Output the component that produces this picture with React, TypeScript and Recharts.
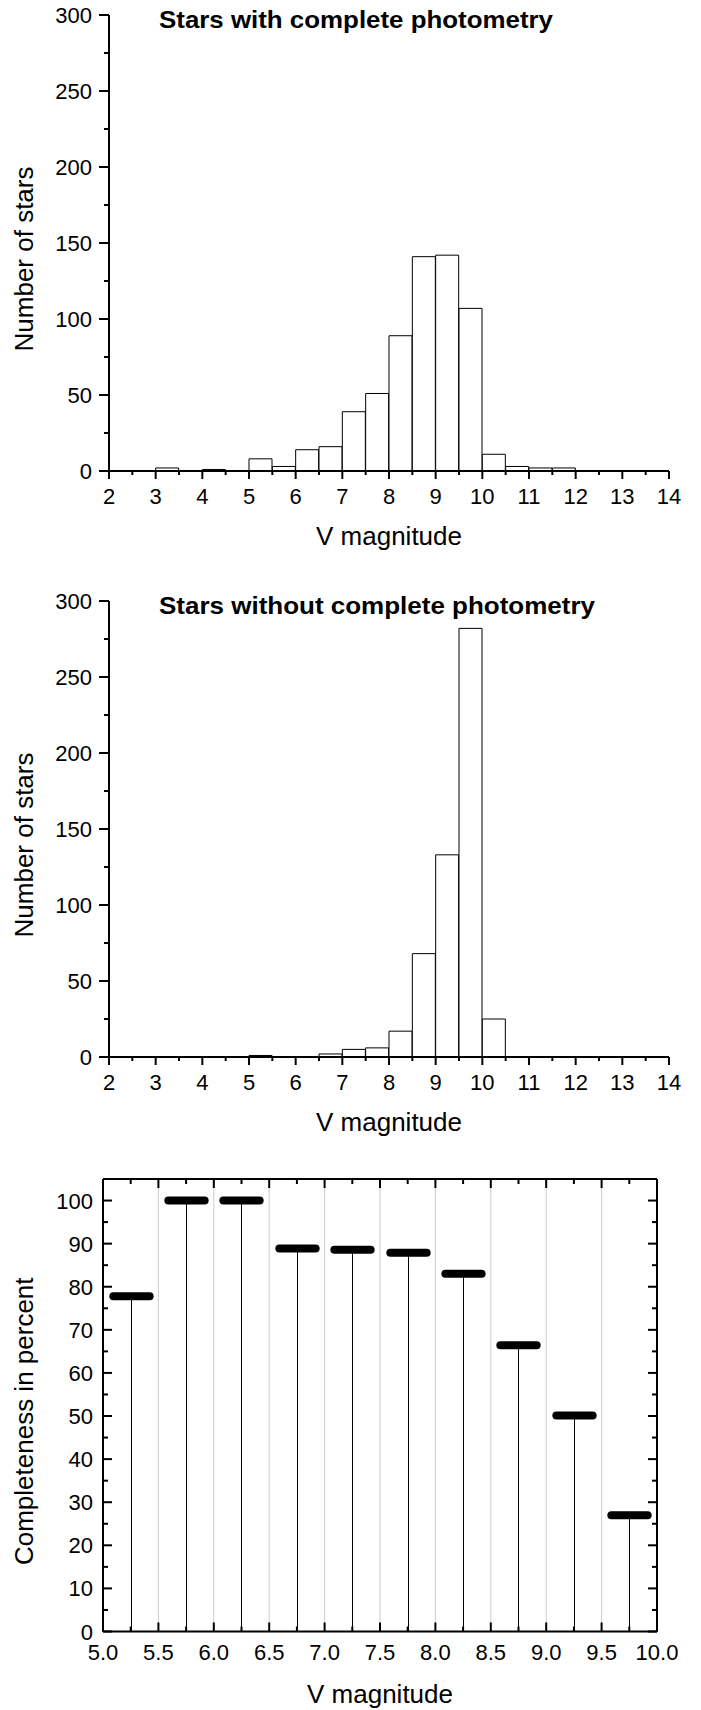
import React from 'react';
import { ComposedChart, Bar, XAxis, YAxis, ReferenceLine, Label } from 'recharts';

const FONT = "'Liberation Sans', Arial, Helvetica, sans-serif";

// lower edges of the 0.5 mag bins (V magnitude)
const binStarts = [2, 2.5, 3, 3.5, 4, 4.5, 5, 5.5, 6, 6.5, 7, 7.5, 8, 8.5, 9, 9.5, 10, 10.5, 11, 11.5, 12, 12.5, 13, 13.5];
const countsComplete = [0, 0, 2, 0, 1, 0, 8, 3, 14, 16, 39, 51, 89, 141, 142, 107, 11, 3, 2, 2, 0, 0, 0, 0];
const countsIncomplete = [0, 0, 0, 0, 0, 0, 1, 0, 0, 2, 5, 6, 17, 68, 133, 282, 25, 0, 0, 0, 0, 0, 0, 0];

const histXTicks = [2, 2.5, 3, 3.5, 4, 4.5, 5, 5.5, 6, 6.5, 7, 7.5, 8, 8.5, 9, 9.5, 10, 10.5, 11, 11.5, 12, 12.5, 13, 13.5, 14];
const histYTicks = [0, 25, 50, 75, 100, 125, 150, 175, 200, 225, 250, 275, 300];

// completeness per bin centre
const complBins = [5.25, 5.75, 6.25, 6.75, 7.25, 7.75, 8.25, 8.75, 9.25, 9.75];
const completeness = [77.8, 100, 100, 88.9, 88.6, 87.9, 83.0, 66.4, 50.1, 27.0];
const complXTicks = [5, 5.25, 5.5, 5.75, 6, 6.25, 6.5, 6.75, 7, 7.25, 7.5, 7.75, 8, 8.25, 8.5, 8.75, 9, 9.25, 9.5, 9.75, 10];
const complYTicks = [0, 5, 10, 15, 20, 25, 30, 35, 40, 45, 50, 55, 60, 65, 70, 75, 80, 85, 90, 95, 100];
const complGrid = [5.5, 6, 6.5, 7, 7.5, 8, 8.5, 9, 9.5];

const histData = (counts: number[]) => binStarts.map((s, i) => ({ bin: String(s), v: s, n: counts[i] }));
const complData = complBins.map((c, i) => ({ bin: String(c), v: c, pct: completeness[i] }));

const HistXTick = (props: any) => {
  const { x, y, payload } = props;
  const major = Number.isInteger(payload.value);
  return (
    <g>
      <line x1={x} x2={x} y1={y} y2={y + (major ? 8 : 4)} stroke="#000" strokeWidth={2} />
      {major && (
        <text x={x} y={y + 33} textAnchor="middle" fontSize={22} fontFamily={FONT} fill="#000">
          {payload.value}
        </text>
      )}
    </g>
  );
};

const HistYTick = (props: any) => {
  const { x, y, payload } = props;
  const major = payload.value % 50 === 0;
  return (
    <g>
      <line x1={x - (major ? 10 : 5)} x2={x} y1={y} y2={y} stroke="#000" strokeWidth={2} />
      {major && (
        <text x={x - 17} y={y + 8} textAnchor="end" fontSize={22} fontFamily={FONT} fill="#000">
          {payload.value}
        </text>
      )}
    </g>
  );
};

// inward ticks on all four sides of the completeness frame
const frameTick = (side: 'bottom' | 'top' | 'left' | 'right') => (props: any) => {
  const { x, y, payload } = props;
  const v = payload.value;
  const horiz = side === 'bottom' || side === 'top';
  const major = horiz ? Math.abs(v * 2 - Math.round(v * 2)) < 1e-6 : v % 10 === 0;
  const len = major ? 9 : 5;
  let line;
  if (side === 'bottom') line = <line x1={x} x2={x} y1={y} y2={y - len} stroke="#000" strokeWidth={2} />;
  else if (side === 'top') line = <line x1={x} x2={x} y1={y} y2={y + len} stroke="#000" strokeWidth={2} />;
  else if (side === 'left') line = <line x1={x} x2={x + len} y1={y} y2={y} stroke="#000" strokeWidth={2} />;
  else line = <line x1={x} x2={x - len} y1={y} y2={y} stroke="#000" strokeWidth={2} />;
  let label = null;
  if (major && side === 'bottom') {
    label = (
      <text x={x} y={y + 28} textAnchor="middle" fontSize={22} fontFamily={FONT} fill="#000">
        {v.toFixed(1)}
      </text>
    );
  }
  if (major && side === 'left') {
    label = (
      <text x={x - 10} y={y + 8} textAnchor="end" fontSize={22} fontFamily={FONT} fill="#000">
        {v}
      </text>
    );
  }
  return (
    <g>
      {line}
      {label}
    </g>
  );
};

const xLabel = (text: string, dy: number) => (props: any) => {
  const vb = props.viewBox;
  return (
    <text x={vb.x + vb.width / 2} y={vb.y + dy} textAnchor="middle" fontSize={26} fontFamily={FONT} fill="#000">
      {text}
    </text>
  );
};

const yLabel = (text: string, dy: number) => (props: any) => {
  const vb = props.viewBox;
  const bx = vb.x + 33;
  const cy = vb.y + vb.height / 2 + dy;
  return (
    <text x={bx} y={cy} transform={`rotate(-90 ${bx} ${cy})`} textAnchor="middle" fontSize={26} fontFamily={FONT} fill="#000">
      {text}
    </text>
  );
};

const CompletenessMark = (props: any) => {
  const { x, y, width, height } = props;
  const cx = Math.round(x + width / 2) + 0.5;
  const half = width * 0.33;
  return (
    <g>
      <line x1={cx} x2={cx} y1={y + height} y2={y} stroke="#000" strokeWidth={1} />
      <line x1={cx - half} x2={cx + half} y1={y} y2={y} stroke="#000" strokeWidth={8} strokeLinecap="round" />
    </g>
  );
};

type HistProps = { counts: number[]; title: string; titleLength: number; top: number; titleY: number };

const Histogram: React.FC<HistProps> = ({ counts, title, titleLength, top, titleY }) => (
  <div style={{ position: 'relative', width: 701, height: 580 }}>
    <ComposedChart
      width={701}
      height={580}
      data={histData(counts)}
      margin={{ top, right: 32, bottom: 0, left: 0 }}
      barCategoryGap={0}
      barGap={0}
    >
      <XAxis xAxisId="cat" dataKey="bin" hide height={0} />
      <XAxis
        xAxisId="num"
        dataKey="v"
        type="number"
        domain={[2, 14]}
        allowDataOverflow
        ticks={histXTicks}
        interval={0}
        tickSize={0}
        tickMargin={0}
        tickLine={false}
        tick={HistXTick}
        axisLine={{ stroke: '#000', strokeWidth: 2 }}
        height={580 - top - 456}
      >
        <Label content={xLabel('V magnitude', 74)} />
      </XAxis>
      <YAxis
        type="number"
        domain={[0, 300]}
        allowDataOverflow
        ticks={histYTicks}
        interval={0}
        tickSize={0}
        tickMargin={0}
        tickLine={false}
        tick={HistYTick}
        axisLine={{ stroke: '#000', strokeWidth: 2 }}
        width={109}
      >
        <Label content={yLabel('Number of stars', 16)} />
      </YAxis>
      <Bar dataKey="n" xAxisId="cat" fill="#fff" stroke="#000" strokeWidth={1} isAnimationActive={false} />
    </ComposedChart>
    <svg width={701} height={50} style={{ position: 'absolute', left: 0, top: 0, pointerEvents: 'none' }}>
      <text
        x={159}
        y={titleY}
        fontSize={24}
        fontWeight="bold"
        fontFamily={FONT}
        fill="#000"
        textLength={titleLength}
        lengthAdjust="spacingAndGlyphs"
      >
        {title}
      </text>
    </svg>
  </div>
);

const CompletenessChart: React.FC = () => (
  <ComposedChart
    width={701}
    height={550}
    data={complData}
    margin={{ top: 18, right: 43, bottom: 0, left: 0 }}
    barCategoryGap={0}
    barGap={0}
  >
    <XAxis xAxisId="cat" dataKey="bin" hide height={0} />
    <XAxis
      xAxisId="num"
      dataKey="v"
      type="number"
      domain={[5, 10]}
      allowDataOverflow
      ticks={complXTicks}
      interval={0}
      tickSize={0}
      tickMargin={0}
      tickLine={false}
      tick={frameTick('bottom')}
      axisLine={{ stroke: '#000', strokeWidth: 2 }}
      height={78.5}
    >
      <Label content={xLabel('V magnitude', 71.5)} />
    </XAxis>
    <XAxis
      xAxisId="top"
      orientation="top"
      dataKey="v"
      type="number"
      domain={[5, 10]}
      allowDataOverflow
      ticks={complXTicks}
      interval={0}
      tickSize={0}
      tickMargin={0}
      tickLine={false}
      tick={frameTick('top')}
      axisLine={{ stroke: '#000', strokeWidth: 2 }}
      height={1}
    />
    <YAxis
      yAxisId="l"
      type="number"
      domain={[0, 105]}
      allowDataOverflow
      ticks={complYTicks}
      interval={0}
      tickSize={0}
      tickMargin={0}
      tickLine={false}
      tick={frameTick('left')}
      axisLine={{ stroke: '#000', strokeWidth: 2 }}
      width={103}
    >
      <Label content={yLabel('Completeness in percent', 16)} />
    </YAxis>
    <YAxis
      yAxisId="r"
      orientation="right"
      type="number"
      domain={[0, 105]}
      allowDataOverflow
      ticks={complYTicks}
      interval={0}
      tickSize={0}
      tickMargin={0}
      tickLine={false}
      tick={frameTick('right')}
      axisLine={{ stroke: '#000', strokeWidth: 2 }}
      width={1}
    />
    {complGrid.map((g) => (
      <ReferenceLine key={g} x={g} xAxisId="num" yAxisId="l" stroke="#cccccc" strokeWidth={1} />
    ))}
    <Bar dataKey="pct" xAxisId="cat" yAxisId="l" shape={CompletenessMark} isAnimationActive={false} />
  </ComposedChart>
);

export default function App() {
  return (
    <div style={{ position: 'absolute', left: 0, top: 0, width: 701, height: 1710, background: '#fff' }}>
      <div style={{ position: 'absolute', left: 0, top: 0 }}>
        <Histogram counts={countsComplete} title="Stars with complete photometry" titleLength={394} top={15} titleY={27.5} />
      </div>
      <div style={{ position: 'absolute', left: 0, top: 580 }}>
        <Histogram counts={countsIncomplete} title="Stars without complete photometry" titleLength={436} top={21} titleY={33.5} />
      </div>
      <div style={{ position: 'absolute', left: 0, top: 1160 }}>
        <CompletenessChart />
      </div>
    </div>
  );
}
